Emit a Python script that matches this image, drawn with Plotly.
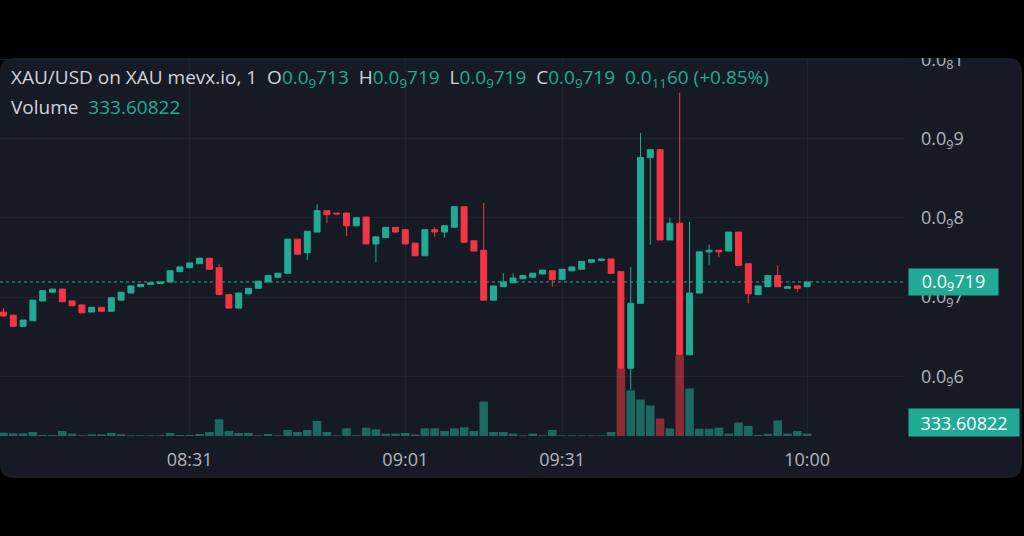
import plotly.graph_objects as go

# ---------------- data (price in units of 1e-10) ----------------
bar_index = list(range(83))
opens = [6.81, 6.77, 6.63, 6.70, 6.95, 7.06, 7.10, 6.95, 6.90, 6.81,
         6.87, 6.82, 6.96, 7.05, 7.13, 7.16, 7.17, 7.19, 7.32, 7.37,
         7.42, 7.49, 7.37, 7.03, 6.86, 7.04, 7.11, 7.19, 7.25, 7.30,
         7.73, 7.56, 7.82, 8.09, 8.06, 8.06, 7.90, 8.01, 7.67, 7.75,
         7.88, 7.85, 7.68, 7.52, 7.85, 7.82, 7.88, 8.14, 7.71, 7.59,
         6.96, 7.13, 7.18, 7.23, 7.25, 7.29, 7.33, 7.22, 7.33, 7.35,
         7.44, 7.46, 7.48, 7.32, 6.10, 6.92, 8.76, 8.86, 7.72, 7.93,
         6.27, 7.05, 7.57, 7.59, 7.58, 7.82, 7.42, 7.03, 7.13, 7.27,
         7.11, 7.14, 7.13]
highs = [6.86, 6.78, 6.71, 6.96, 7.08, 7.10, 7.10, 6.95, 6.90, 6.87,
         6.87, 6.99, 7.06, 7.14, 7.16, 7.18, 7.19, 7.33, 7.38, 7.43,
         7.49, 7.49, 7.42, 7.03, 7.05, 7.11, 7.20, 7.27, 7.30, 7.73,
         7.73, 7.83, 8.17, 8.09, 8.06, 8.06, 8.00, 8.01, 7.76, 7.88,
         7.88, 7.85, 7.68, 7.85, 7.88, 7.90, 8.14, 8.14, 7.71, 8.19,
         7.14, 7.30, 7.30, 7.27, 7.30, 7.34, 7.33, 7.35, 7.38, 7.45,
         7.47, 7.48, 7.48, 7.32, 7.38, 9.07, 8.86, 8.86, 8.00, 9.58,
         7.95, 7.57, 7.66, 7.59, 7.82, 7.82, 7.42, 7.14, 7.27, 7.40,
         7.13, 7.14, 7.19]
lows = [6.76, 6.63, 6.62, 6.70, 6.95, 7.06, 6.94, 6.89, 6.80, 6.81,
        6.82, 6.82, 6.96, 7.05, 7.13, 7.16, 7.17, 7.19, 7.32, 7.37,
        7.42, 7.35, 7.03, 6.86, 6.86, 7.04, 7.11, 7.19, 7.25, 7.30,
        7.54, 7.47, 7.82, 7.93, 8.05, 7.77, 7.90, 7.67, 7.44, 7.75,
        7.82, 7.67, 7.52, 7.52, 7.76, 7.75, 7.88, 7.69, 7.58, 6.96,
        6.96, 7.13, 7.18, 7.23, 7.25, 7.29, 7.13, 7.22, 7.33, 7.35,
        7.44, 7.46, 7.30, 6.10, 5.83, 6.92, 7.66, 7.72, 7.72, 6.27,
        6.27, 7.05, 7.40, 7.50, 7.58, 7.40, 6.92, 7.03, 7.13, 7.13,
        7.11, 7.06, 7.13]
closes = [6.76, 6.63, 6.71, 6.96, 7.08, 7.10, 6.94, 6.89, 6.80, 6.87,
          6.82, 6.99, 7.06, 7.14, 7.16, 7.18, 7.19, 7.33, 7.38, 7.43,
          7.49, 7.35, 7.03, 6.86, 7.05, 7.11, 7.20, 7.27, 7.30, 7.73,
          7.54, 7.83, 8.09, 8.04, 8.05, 7.90, 8.00, 7.67, 7.76, 7.88,
          7.82, 7.67, 7.52, 7.85, 7.82, 7.90, 8.14, 7.69, 7.58, 6.96,
          7.14, 7.19, 7.24, 7.27, 7.30, 7.34, 7.22, 7.35, 7.38, 7.45,
          7.47, 7.48, 7.30, 6.10, 6.92, 8.76, 8.86, 7.72, 7.93, 6.27,
          7.05, 7.57, 7.59, 7.57, 7.82, 7.40, 7.04, 7.14, 7.27, 7.13,
          7.13, 7.11, 7.19]
volumes = [480, 390, 390, 580, 145, 145, 725, 335, 100, 245,
           245, 435, 245, 100, 100, 100, 100, 435, 145, 145,
           290, 580, 2420, 725, 435, 435, 100, 290, 100, 870,
           580, 870, 2175, 580, 100, 1115, 100, 1205, 970, 335,
           335, 435, 220, 1115, 1115, 725, 1115, 1260, 725, 5000,
           580, 580, 335, 100, 335, 100, 870, 100, 100, 100,
           100, 100, 580, 9790, 6600, 5290, 4420, 2540, 1090, 11670,
           6890, 1060, 1060, 1205, 335, 1960, 1450, 145, 320, 2250,
           335, 725, 333.60822]
sell_volume_bars = [63, 67, 69]
time_tick_pos = [19, 41, 57, 82]
time_tick_text = ["08:31", "09:01", "09:31", "10:00"]
price_tick_vals = [6, 7, 8, 9, 10]
price_tick_text = ["0.0<sub>9</sub>6", "0.0<sub>9</sub>7", "0.0<sub>9</sub>8",
                   "0.0<sub>9</sub>9", "0.0<sub>8</sub>1"]
last_price = 7.19
last_price_text = "0.0<sub>9</sub>719"
last_volume_text = "333.60822"

# ---------------- style ----------------
W, H = 1024, 536
BG = "#161a25"
GREEN = "#22ab94"
RED = "#f23645"
TXT = "#d1d4dc"
AX = "#b2b5be"
GRID = "#1f2330"
FONT = "Open Sans"

def px_x(p):
    return p / W

def px_y(p):
    return 1 - p / H

plot_left, plot_right, plot_top, plot_bottom = 0, 905, 58, 436
bar_step, first_center = 9.8, 3.5

x_range = [(plot_left - first_center) / bar_step, (plot_right - first_center) / bar_step]
# price mapping: 79.2 px per unit, 7.0 at y=297
y_range = [7 + (297 - plot_bottom) / 79.2, 7 + (297 - plot_top) / 79.2]
vol_range = [0, (plot_bottom - plot_top) * 145]

vol_colors = ["rgba(242,54,69,0.55)" if i in sell_volume_bars else "rgba(34,171,148,0.55)"
              for i in bar_index]

fig = go.Figure()
fig.add_trace(go.Bar(x=bar_index, y=volumes, marker=dict(color=vol_colors, line=dict(width=0)),
                     yaxis="y", hoverinfo="skip", showlegend=False))
fig.add_trace(go.Candlestick(
    x=bar_index, open=opens, high=highs, low=lows, close=closes, yaxis="y2",
    increasing=dict(line=dict(color=GREEN, width=1), fillcolor=GREEN),
    decreasing=dict(line=dict(color=RED, width=1), fillcolor=RED),
    whiskerwidth=0, hoverinfo="skip", showlegend=False))

# panel with rounded corners
L, R, T, B, rr = 0, 1022, 58, 478, 14
path = (f"M {px_x(L + rr)} {px_y(T)} L {px_x(R - rr)} {px_y(T)} "
        f"Q {px_x(R)} {px_y(T)} {px_x(R)} {px_y(T + rr)} "
        f"L {px_x(R)} {px_y(B - rr)} Q {px_x(R)} {px_y(B)} {px_x(R - rr)} {px_y(B)} "
        f"L {px_x(L + rr)} {px_y(B)} Q {px_x(L)} {px_y(B)} {px_x(L)} {px_y(B - rr)} "
        f"L {px_x(L)} {px_y(T + rr)} Q {px_x(L)} {px_y(T)} {px_x(L + rr)} {px_y(T)} Z")
shapes = [
    dict(type="path", path=path, xref="paper", yref="paper", fillcolor=BG,
         line=dict(width=0), layer="below"),
    dict(type="line", xref="paper", yref="y2", x0=px_x(plot_left), x1=px_x(plot_right),
         y0=last_price, y1=last_price, line=dict(color=GREEN, width=1, dash="dot"), layer="below"),
    dict(type="rect", xref="paper", yref="paper", x0=0, x1=1, y0=px_y(T), y1=1,
         fillcolor="black", line=dict(width=0), layer="above"),
]

def val(s):
    return f'<span style="color:{GREEN}">{s}</span>'

sp = "\u00a0\u00a0"
header1 = ("XAU/USD on XAU mevx.io, 1" + sp + "O" + val("0.0<sub>9</sub>713") + sp +
           "H" + val("0.0<sub>9</sub>719") + sp + "L" + val("0.0<sub>9</sub>719") + sp +
           "C" + val("0.0<sub>9</sub>719") + sp + val("0.0<sub>11</sub>60 (+0.85%)"))
header2 = "Volume" + sp + val(last_volume_text)

annotations = [
    dict(text=header1, xref="paper", yref="paper", x=px_x(9), y=px_y(78), xanchor="left",
         yanchor="middle", showarrow=False, font=dict(size=19, color=TXT, family=FONT)),
    dict(text=header2, xref="paper", yref="paper", x=px_x(9), y=px_y(107), xanchor="left",
         yanchor="middle", showarrow=False, font=dict(size=19, color=TXT, family=FONT)),
    dict(text=last_price_text, xref="paper", yref="y2", x=px_x(908), y=last_price,
         xanchor="left", yanchor="middle", showarrow=False, bgcolor=GREEN, borderpad=3,
         font=dict(size=18, color="white", family=FONT), width=83, height=20),
    dict(text=last_volume_text, xref="paper", yref="paper", x=px_x(908), y=px_y(422),
         xanchor="left", yanchor="middle", showarrow=False, bgcolor=GREEN, borderpad=3,
         font=dict(size=18, color="white", family=FONT), width=104, height=21),
]

fig.update_layout(
    width=W, height=H, margin=dict(l=0, r=0, t=0, b=0, autoexpand=False),
    paper_bgcolor="black", plot_bgcolor="rgba(0,0,0,0)",
    bargap=0.13, boxgap=0.13,
    shapes=shapes, annotations=annotations, showlegend=False,
    xaxis=dict(domain=[px_x(plot_left), px_x(plot_right)], range=x_range, automargin=False,
               rangeslider=dict(visible=False), tickmode="array", tickvals=time_tick_pos,
               ticktext=time_tick_text, showgrid=True, gridcolor=GRID, gridwidth=1,
               zeroline=False, showline=False, ticks="", ticklabelstandoff=11,
               tickfont=dict(size=18, color=AX, family=FONT), fixedrange=True),
    yaxis=dict(domain=[px_y(plot_bottom), px_y(plot_top)], range=vol_range, automargin=False,
               showgrid=False, zeroline=False, showticklabels=False, showline=False),
    yaxis2=dict(overlaying="y", side="right", anchor="x", range=y_range, tickmode="array",
                automargin=False,
                tickvals=price_tick_vals, ticktext=price_tick_text, showgrid=True,
                gridcolor=GRID, gridwidth=1, zeroline=False, showline=False, ticks="",
                ticklabelstandoff=15, tickfont=dict(size=18, color=AX, family=FONT)),
    font=dict(family=FONT),
)

fig.write_html("out.html", config={"displayModeBar": False},
               post_script="document.body.style.margin='0';document.body.style.overflow='hidden';")
